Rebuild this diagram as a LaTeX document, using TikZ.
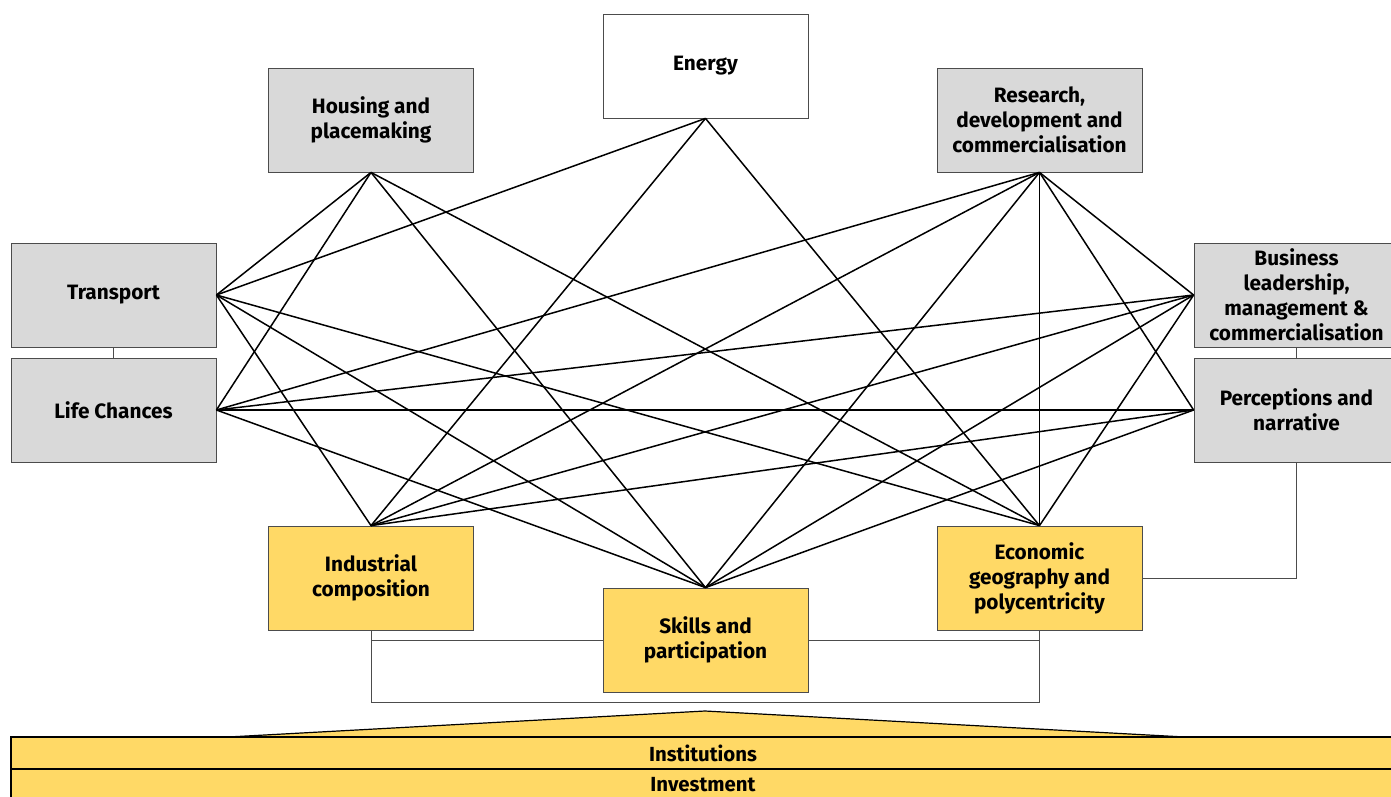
\documentclass[tikz,border=0pt]{standalone}
\usepackage{fontspec}
\setmainfont{Fira Sans}
\usepackage{xcolor}
\definecolor{boxgray}{HTML}{D9D9D9}
\definecolor{boxgold}{HTML}{FFD966}

\begin{document}
\begin{tikzpicture}[x=0.5pt,y=-0.5pt]
\useasboundingbox (0,0) rectangle (1391,797);

% foundation
\draw[fill=boxgold, line width=0.6pt] (228,737) -- (705,711) -- (1185,737);
\begin{scope}[every node/.style={rectangle,draw=black,line width=0.6pt,fill=boxgold,
              minimum width=692pt,minimum height=16pt,inner sep=0pt,
              font=\bfseries\fontsize{10.2}{12}\selectfont}]
  \node (Ins) at (703,753) {Institutions};
  \node (Inv) at (703,785) {Investment};
\end{scope}

\begin{scope}[every node/.style={rectangle,draw=black!70,fill=boxgray,
              minimum width=102.5pt,minimum height=52pt,inner sep=1pt,align=center,
              font=\bfseries\fontsize{10.4}{12.5}\selectfont}]
  \node[fill=white] (E) at (705.5,66) {Energy};
  \node (H) at (371,120) {Housing and\\placemaking};
  \node (R) at (1039.5,120) {Research,\\development and\\commercialisation};
  \node (T) at (113.5,295) {Transport};
  \node (L) at (113.5,410) {Life Chances};
  \node (B) at (1296.5,295) {Business\\leadership,\\management \&\\commercialisation};
  \node (P) at (1296.5,410) {Perceptions and\\narrative};
  \node[fill=boxgold] (I) at (371,578) {Industrial\\composition};
  \node[fill=boxgold] (S) at (705.5,640) {Skills and\\participation};
  \node[fill=boxgold] (G) at (1039.5,578) {Economic\\geography and\\polycentricity};
\end{scope}

\begin{scope}[every edge/.style={draw=black, line width=0.75pt}]
  \path (E.south) edge (T.east) edge (I.north) edge (G.north);
  \path (H.south) edge (T.east) edge (L.east) edge (S.north) edge (G.north);
  \path (R.south) edge (L.east) edge (I.north) edge (S.north) edge (G.north)
                  edge (B.west) edge (P.west);
  \path (T.east) edge (I.north) edge (S.north) edge (G.north);
  \path (L.east) edge (B.west) edge (P.west) edge (S.north);
  \path (B.west) edge (I.north) edge (S.north) edge (G.north);
  \path (P.west) edge (I.north) edge (S.north);
\end{scope}

% links between neighbours
\coordinate (bl) at (371,702);
\coordinate (br) at (1039.5,702);
\begin{scope}[draw=black!70, line width=0.5pt]
  \draw (T.south) -- (L.north);
  \draw (B.south) -- (P.north);
  \draw (P.south) |- (G.east);
  \draw (I.south) -- (bl) -- (br) -- (G.south);
  \draw (S.west) -- (S.west -| I.south);
  \draw (S.east) -- (S.east -| G.south);
\end{scope}

\end{tikzpicture}
\end{document}
